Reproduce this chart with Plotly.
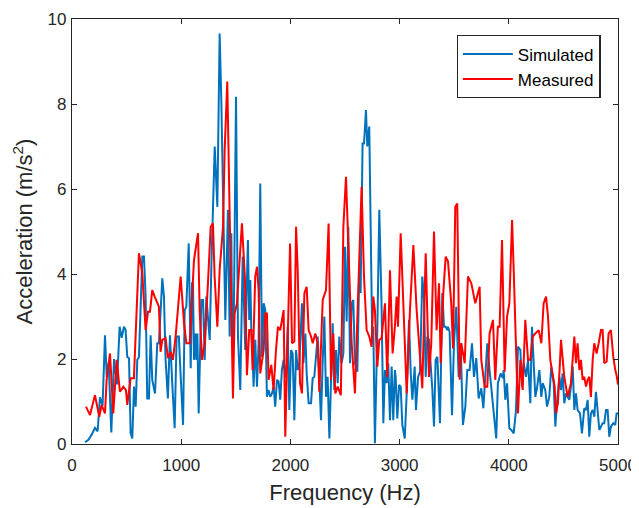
import plotly.graph_objects as go

sim_freq = [119,150,180,210,235,256,280,302,318,336,360,385,412,436,455,
            476,491,506,522,537,552,568,583,598,613,644,659,674,689,705,720,735,760,781,796,827,842,857,878,897,918,940,958,979,
            986,1001,1017,1032,1047,1069,1087,1099,1108,1117,1130,1139,1148,1160,1184,1200,1215,1230,1245,1261,1276,1307,1331,1352,1368,1404,1428,1444,1459,1468,
            1480,1502,1520,1541,1563,1587,1611,1623,1633,1642,1654,1663,1678,1694,1709,1724,1740,1755,1770,1785,1800,1816,1831,1846,1861,1877,1892,1907,1922,1938,1953,
            1960,1975,1990,2006,2021,2036,2052,2067,2082,2106,2119,2137,2149,2167,2189,2204,2219,2250,2265,2280,2296,2311,2326,2341,2357,2372,2387,2402,2418,2433,2448,
            2469,2485,2500,2515,2530,2546,2561,2576,2591,2613,2631,2643,2661,2674,2692,2704,2722,2735,2750,2759,2774,2796,2814,2835,2851,2866,2881,2896,2912,2927,2942,2957,
            2964,2979,2995,3010,3025,3047,3065,3086,3102,3117,3138,3150,3169,3187,3208,3224,3239,3254,3269,3300,3315,3330,3346,3370,3391,3407,3422,3437,
            3443,3458,3480,3498,3519,3541,3559,3580,3602,3620,3641,3663,3681,3702,3724,3748,3767,3779,3803,3824,3846,3885,3900,3925,3946,
            3953,3968,3984,4005,4023,4045,4066,4084,4106,4121,4136,4158,4176,4197,4212,4228,4243,4258,4280,4298,4310,4334,4350,4371,4389,4411,4426,4441,
            4463,4478,4493,4508,4524,4539,4554,4569,4585,4600,4615,4630,4652,4670,4691,4707,4722,4737,4752,4768,4783,4798,4813,4829,4844,4859,4874,4890,4905,4920,4935,4957,4975,4987,5000]
sim_acc = [0.04,0.10,0.22,0.38,0.30,1.10,0.90,2.56,1.58,1.90,0.27,2.00,1.40,2.76,2.50,
           2.76,2.68,2.05,2.02,0.25,0.13,1.35,0.88,1.98,2.05,4.41,4.41,3.47,1.07,1.07,2.56,1.51,1.19,2.37,2.37,3.90,3.47,1.98,1.07,2.56,1.43,0.37,2.53,2.53,
           2.09,1.11,0.45,3.15,3.23,4.72,1.78,3.78,3.78,1.98,2.60,1.98,2.60,0.72,3.39,3.39,1.98,3.47,2.92,2.45,4.17,7.00,5.58,9.66,8.02,2.92,5.51,2.53,4.96,2.37,
           2.53,8.17,2.53,1.27,4.41,2.21,4.80,2.92,3.86,2.68,2.05,1.35,2.45,1.35,2.37,6.13,2.05,3.31,3.15,1.11,1.27,1.11,1.19,1.35,0.88,1.51,1.47,1.04,1.74,1.98,1.58,
           1.58,2.76,0.80,2.21,2.13,0.56,2.21,1.74,1.90,3.31,1.90,2.60,1.66,0.96,0.96,1.55,1.58,2.53,1.35,0.56,1.98,3.00,1.11,1.58,0.13,1.43,2.84,1.27,2.21,1.43,2.53,
           1.90,2.13,4.64,2.88,5.11,1.90,3.31,3.39,1.90,1.70,4.09,3.55,7.07,7.07,7.86,7.00,7.47,4.80,2.37,2.76,0.02,2.68,5.51,3.23,0.49,1.74,1.43,1.90,0.56,1.82,0.56,1.74,
           1.58,0.60,1.39,1.35,0.45,0.13,1.19,2.92,1.66,1.04,1.82,0.80,1.58,1.70,3.94,3.39,1.58,2.53,2.45,1.27,0.41,1.98,2.05,0.49,3.55,2.76,2.76,2.68,
           2.76,2.64,0.68,2.37,3.23,1.58,2.37,0.45,0.88,1.74,1.74,2.37,1.58,2.02,1.07,1.31,0.84,1.35,2.37,1.74,1.11,0.13,1.43,1.66,1.55,
           1.74,1.04,1.43,0.37,0.33,0.25,0.80,2.29,2.21,1.35,1.90,1.58,1.98,0.96,2.76,1.90,1.11,1.31,1.74,1.11,1.43,1.27,0.88,1.11,1.82,1.43,0.41,0.96,
           1.58,1.27,1.66,0.96,1.19,1.11,1.04,1.35,1.82,0.80,1.19,0.80,0.72,0.25,0.84,0.80,1.04,0.17,0.72,0.80,0.64,1.23,0.80,0.33,0.41,0.49,0.49,0.80,0.80,0.17,0.41,0.49,0.45,0.72,0.72]

meas_freq = [128,165,210,250,271,302,317,348,378,409,439,470,494,
             506,537,567,613,644,674,696,714,735,757,781,796,811,827,857,878,903,924,949,
             995,1026,1047,1078,1117,1154,1169,1191,1215,1245,1270,1291,1306,1331,1352,1383,1398,1422,1444,1459,1474,
             1489,1510,1556,1583,1602,1623,1642,1654,1678,1694,1709,1724,1755,1770,1785,1800,1825,1846,1868,1886,1907,1938,1953,
             1997,2015,2036,2052,2067,2088,2106,2128,2149,2167,2189,2204,2228,2250,2265,2296,2326,2350,2372,2393,2411,2433,2462,
             2485,2509,2530,2561,2591,2622,2652,2674,2698,2722,2744,2759,2774,2796,2814,2835,2866,2887,2912,2936,2957,
             2973,2985,3010,3034,3065,3095,3126,3156,3178,3208,3239,3254,3269,3290,3315,3339,3361,3376,3400,3422,3443,
             3473,3489,3510,3528,3550,3565,3596,3626,3657,3693,3733,3748,3779,3803,3824,3855,3876,3900,3916,
             3938,3962,3984,4005,4030,4045,4066,4084,4106,4127,4151,4176,4197,4219,4243,4274,4298,4319,4341,4359,4380,4402,4420,4432,4450,
             4478,4493,4508,4539,4569,4600,4615,4630,4646,4661,4676,4691,4707,4722,4737,4752,4768,4783,4804,4823,4844,4859,4874,4896,4914,4935,4957,4975,4987,5000]
meas_acc = [0.88,0.68,1.15,0.64,0.92,0.72,1.51,2.13,0.72,1.98,1.23,1.35,1.27,
            0.92,1.55,1.55,4.49,4.02,2.68,3.11,3.11,3.62,3.47,3.31,3.23,2.17,2.45,2.49,2.02,2.17,1.98,2.53,
            3.94,2.84,2.37,2.37,4.33,4.96,3.15,1.98,2.37,3.78,5.11,5.19,3.94,2.76,4.09,5.11,6.92,8.53,5.51,3.39,1.07,
            3.07,3.30,5.19,3.94,1.62,2.68,2.68,1.74,3.94,4.17,3.62,1.66,2.21,3.07,3.07,1.51,1.86,1.27,2.21,2.76,2.68,3.15,0.17,
            4.72,2.37,2.41,5.11,4.09,1.43,1.19,3.55,3.70,2.68,2.53,2.37,2.60,2.37,1.23,3.39,3.62,5.19,1.51,2.60,1.19,1.35,1.15,
            5.11,6.29,4.72,2.37,1.19,3.55,6.05,3.94,2.68,2.53,2.29,3.47,3.15,1.82,2.45,2.49,3.31,1.58,4.09,2.13,2.76,
            3.47,2.76,4.96,3.15,1.19,3.15,4.68,3.15,2.37,1.31,4.49,3.15,1.58,2.37,5.00,2.68,3.78,1.90,3.55,4.41,4.30,
            3.31,2.25,5.58,5.66,1.51,2.37,1.90,3.94,3.78,3.31,3.70,1.98,1.35,1.35,2.60,2.92,1.51,2.76,2.76,
            4.80,1.70,3.00,3.31,5.27,4.09,2.29,0.72,1.98,1.27,2.92,1.98,1.98,2.53,2.60,2.68,2.37,3.31,3.47,3.00,1.98,1.58,1.35,0.72,0.96,
            2.45,1.98,1.58,1.11,1.43,2.53,1.90,2.37,1.74,1.98,1.51,1.58,1.35,1.51,1.58,1.11,1.98,2.37,2.13,2.37,2.68,2.68,1.90,1.94,2.60,2.68,2.05,1.74,1.62,1.40]

x_ticks = [0, 1000, 2000, 3000, 4000, 5000]
y_ticks = [0, 2, 4, 6, 8, 10]

FONT = "Liberation Sans, Arial, sans-serif"
AX = "#262626"

fig = go.Figure()
fig.add_trace(go.Scatter(x=sim_freq, y=sim_acc, mode="lines", name="Simulated",
                         line=dict(color="#0072BD", width=2)))
fig.add_trace(go.Scatter(x=meas_freq, y=meas_acc, mode="lines", name="Measured",
                         line=dict(color="#FF0000", width=2)))

axis_common = dict(showline=True, linecolor=AX, linewidth=1.3, mirror="ticks",
                   ticks="inside", ticklen=5, tickcolor=AX, tickwidth=1.3,
                   showgrid=False, zeroline=False, automargin=False,
                   tickfont=dict(family=FONT, size=17, color=AX))

# the page body has an 8px default margin, so the figure is sized to fit the window
fig.update_layout(
    width=631, height=500,
    margin=dict(l=64, r=21, t=11, b=64),
    paper_bgcolor="white", plot_bgcolor="white",
    font=dict(family=FONT, color=AX),
    xaxis=dict(range=[0, 5000], tickvals=x_ticks, ticklabelstandoff=5,
               title=dict(text="Frequency (Hz)", font=dict(family=FONT, size=22, color=AX), standoff=11),
               **axis_common),
    yaxis=dict(range=[0, 10], tickvals=y_ticks, ticklabelstandoff=1,
               title=dict(text="Acceleration (m/s<sup>2</sup>)", font=dict(family=FONT, size=22, color=AX), standoff=8),
               **axis_common),
    legend=dict(x=0.968, y=0.962, xanchor="right", yanchor="top",
                bgcolor="white", bordercolor=AX, borderwidth=1.3,
                font=dict(family=FONT, size=17, color="black"),
                itemwidth=50, tracegroupgap=0),
    showlegend=True,
)

fig.write_html("out.html")
